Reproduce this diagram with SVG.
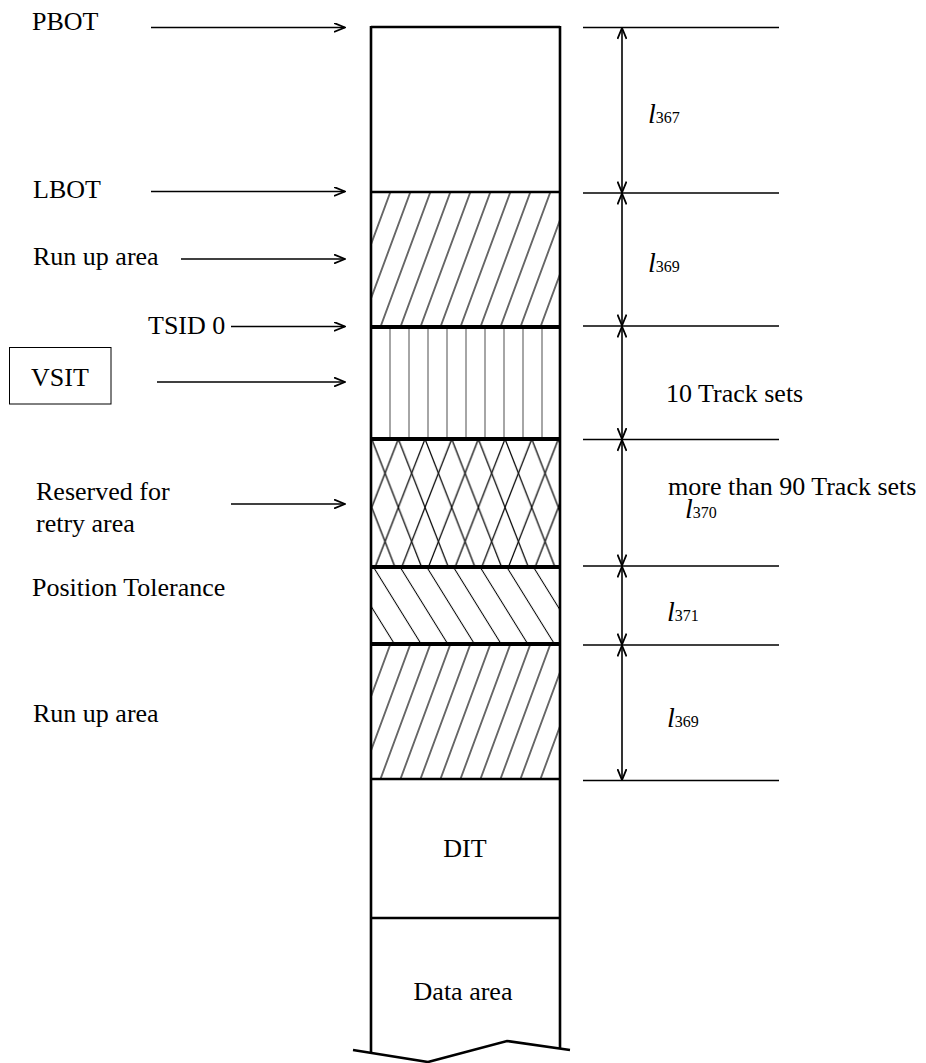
<svg xmlns="http://www.w3.org/2000/svg" width="926" height="1063" viewBox="0 0 926 1063" font-family="'Liberation Serif', 'Times New Roman', Times, serif">
<style>
text{font-family:'Liberation Serif','Times New Roman',Times,serif;font-size:26px;fill:#000}
.it{font-style:italic;font-size:28px}
.sub{font-style:normal;font-size:16px}
.arr{stroke:#000;stroke-width:1.6;fill:none;marker-end:url(#ah)}
.dim{stroke:#000;stroke-width:1.6;fill:none;marker-start:url(#ah);marker-end:url(#ah)}
.ext{stroke:#000;stroke-width:1.4}
.hat{stroke:#000;stroke-width:1.2;fill:none}
.col{stroke:#000;stroke-width:2.6;fill:none}
.thick{stroke:#000;stroke-width:4}
</style>
<defs>
<marker id="ah" viewBox="0 0 12 10" refX="11.5" refY="5" markerWidth="12" markerHeight="10" markerUnits="userSpaceOnUse" orient="auto-start-reverse">
<path d="M0.5,0.5 L11.5,5 L0.5,9.5" fill="none" stroke="#000" stroke-width="1.8"/>
</marker>
<pattern id="runup1" patternUnits="userSpaceOnUse" x="11.4" y="0" width="20" height="20" patternTransform="skewX(-20.3)">
<line x1="10" y1="-1" x2="10" y2="21" class="hat"/>
</pattern>
<pattern id="runup2" patternUnits="userSpaceOnUse" x="18.65" y="0" width="20" height="20" patternTransform="skewX(-20.3)">
<line x1="10" y1="-1" x2="10" y2="21" class="hat"/>
</pattern>
<pattern id="cross" patternUnits="userSpaceOnUse" x="371.7" y="439" width="26.67" height="68.4">
<line x1="0" y1="0" x2="26.67" y2="68.4" class="hat"/>
<line x1="26.67" y1="0" x2="0" y2="68.4" class="hat"/>
<line x1="-26.67" y1="0" x2="26.67" y2="136.8" class="hat"/>
<line x1="53.34" y1="0" x2="0" y2="136.8" class="hat"/>
<line x1="0" y1="-68.4" x2="26.67" y2="0" class="hat"/>
<line x1="26.67" y1="-68.4" x2="0" y2="0" class="hat"/>
</pattern>
<pattern id="back" patternUnits="userSpaceOnUse" x="8.5" y="0" width="26.67" height="20" patternTransform="skewX(31.8)">
<line x1="13.33" y1="-1" x2="13.33" y2="21" class="hat"/>
</pattern>
</defs>

<g id="column">
<rect id="seg-runup1" x="371" y="192" width="189" height="135" fill="url(#runup1)"/>
<g id="seg-vsit">
<g stroke="#808080" stroke-width="1.4">
<line x1="390" y1="327" x2="390" y2="439"/><line x1="409" y1="327" x2="409" y2="439"/>
<line x1="428" y1="327" x2="428" y2="439"/><line x1="447" y1="327" x2="447" y2="439"/>
<line x1="466" y1="327" x2="466" y2="439"/><line x1="485" y1="327" x2="485" y2="439"/>
<line x1="504" y1="327" x2="504" y2="439"/><line x1="523" y1="327" x2="523" y2="439"/>
<line x1="542" y1="327" x2="542" y2="439"/>
</g>
</g>
<rect id="seg-retry" x="371" y="439" width="189" height="128" fill="url(#cross)"/>
<rect id="seg-tol" x="371" y="567" width="189" height="77" fill="url(#back)"/>
<rect id="seg-runup2" x="371" y="644" width="189" height="135" fill="url(#runup2)"/>
<line class="col" x1="371" y1="27" x2="560" y2="27"/>
<line class="col" x1="371" y1="192" x2="560" y2="192"/>
<line class="thick" x1="371" y1="327" x2="560" y2="327"/>
<line class="thick" x1="371" y1="439" x2="560" y2="439"/>
<line class="thick" x1="371" y1="567" x2="560" y2="567"/>
<line class="thick" x1="371" y1="644" x2="560" y2="644"/>
<line class="col" x1="371" y1="779" x2="560" y2="779"/>
<line class="col" x1="371" y1="918" x2="560" y2="918"/>
<line class="col" x1="371" y1="26" x2="371" y2="1053"/>
<line class="col" x1="560" y1="26" x2="560" y2="1048.6"/>
<polyline class="col" points="353,1050 428,1062 507,1041 570,1050"/>
<text x="465" y="857" text-anchor="middle">DIT</text>
<text x="463" y="1000" text-anchor="middle">Data area</text>
</g>

<g id="left-labels">
<g id="n-pbot"><text x="32" y="30">PBOT</text></g>
<g id="n-lbot"><text x="33" y="198">LBOT</text></g>
<g id="n-runup1"><text x="33" y="265">Run up area</text></g>
<g id="n-tsid"><text x="148" y="334">TSID 0</text></g>
<g id="n-vsit"><rect x="9.5" y="347.5" width="101.5" height="56.5" fill="none" stroke="#000" stroke-width="1"/><text x="31" y="386">VSIT</text></g>
<g id="n-retry"><text x="36" y="500">Reserved for</text><text x="36" y="532">retry area</text></g>
<g id="n-tol"><text x="32" y="596">Position Tolerance</text></g>
<g id="n-runup2"><text x="33" y="722">Run up area</text></g>
</g>

<g id="connectors">
<line class="arr" x1="151" y1="27.5" x2="345" y2="27.5"/>
<line class="arr" x1="151" y1="191.5" x2="345" y2="191.5"/>
<line class="arr" x1="181" y1="259" x2="345" y2="259"/>
<line class="arr" x1="231" y1="326.5" x2="345" y2="326.5"/>
<line class="arr" x1="157" y1="382" x2="345" y2="382"/>
<line class="arr" x1="231" y1="504" x2="345" y2="504"/>
<g id="ext-lines">
<line class="ext" x1="583" y1="27.5" x2="779" y2="27.5"/>
<line class="ext" x1="583" y1="193" x2="779" y2="193"/>
<line class="ext" x1="583" y1="326" x2="779" y2="326"/>
<line class="ext" x1="583" y1="439.5" x2="779" y2="439.5"/>
<line class="ext" x1="583" y1="566" x2="779" y2="566"/>
<line class="ext" x1="583" y1="645" x2="779" y2="645"/>
<line class="ext" x1="583" y1="780.5" x2="779" y2="780.5"/>
</g>
<line class="dim" x1="622" y1="28" x2="622" y2="192.5"/>
<line class="dim" x1="622" y1="193.5" x2="622" y2="325.5"/>
<line class="dim" x1="622" y1="326.5" x2="622" y2="439"/>
<line class="dim" x1="622" y1="440" x2="622" y2="565.5"/>
<line class="dim" x1="622" y1="566.5" x2="622" y2="644.5"/>
<line class="dim" x1="622" y1="645.5" x2="622" y2="780"/>
</g>

<g id="right-labels">
<g id="n-l367"><text x="648" y="123"><tspan class="it">l</tspan><tspan class="sub">367</tspan></text></g>
<g id="n-l369a"><text x="648" y="272"><tspan class="it">l</tspan><tspan class="sub">369</tspan></text></g>
<g id="n-10ts"><text x="666" y="402">10 Track sets</text></g>
<g id="n-90ts"><text x="668" y="495">more than 90 Track sets</text></g>
<g id="n-l370"><text x="685" y="518"><tspan class="it">l</tspan><tspan class="sub">370</tspan></text></g>
<g id="n-l371"><text x="667" y="621"><tspan class="it">l</tspan><tspan class="sub">371</tspan></text></g>
<g id="n-l369b"><text x="667" y="727"><tspan class="it">l</tspan><tspan class="sub">369</tspan></text></g>
</g>
</svg>
